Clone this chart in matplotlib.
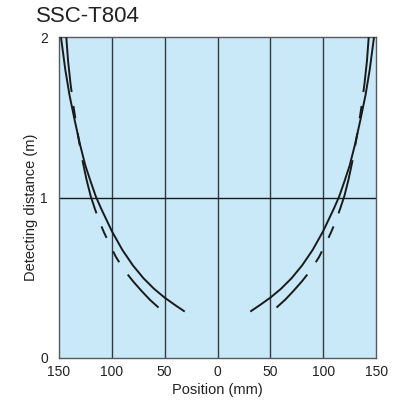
import matplotlib
matplotlib.use("Agg")
import matplotlib.pyplot as plt

plt.rcParams['font.family'] = ['Liberation Sans', 'DejaVu Sans']
plt.rcParams['lines.scale_dashes'] = False

title = "SSC-T804"
xlabel = "Position (mm)"
ylabel = "Detecting distance (m)"
xticks = [-150, -100, -50, 0, 50, 100, 150]
xticklabels = ["150", "100", "50", "0", "50", "100", "150"]
yticks = [0, 1, 2]
yticklabels = ["0", "1", "2"]

# Right half of each curve (position mm, distance m); left half is the mirror image
solid_x = [31, 40, 50, 60, 70, 80, 90, 100, 110, 115, 120, 125, 130, 135, 140, 144, 148]
solid_y = [0.288, 0.328, 0.375, 0.430, 0.496, 0.576, 0.673, 0.791, 0.930, 1.005,
           1.10, 1.20, 1.33, 1.48, 1.64, 1.80, 2.0]
dashed_x = [55.8, 64, 72, 80, 88, 96, 101.3, 107.2, 111.8, 116, 120, 124, 128, 132,
            136, 139, 141.3, 143]
dashed_y = [0.313, 0.362, 0.418, 0.478, 0.545, 0.628, 0.698, 0.780, 0.852, 0.930,
            1.01, 1.115, 1.24, 1.39, 1.56, 1.71, 1.85, 2.0]

fig = plt.figure(figsize=(3.98, 4.03), dpi=100)
ax = fig.add_axes([0.148, 0.1124, 0.797, 0.795])
ax.set_facecolor('#c9e9f9')
ax.set_xlim(-150, 150)
ax.set_ylim(0, 2)

for xv in xticks[1:-1]:
    ax.axvline(xv, color='#33393d', lw=1.0, zorder=1)
ax.axhline(1, color='#1a1a1a', lw=1.0, zorder=1)

dash_pattern = (0, (39.6, 10.1, 9.0, 10.8, 9.0, 10.8))
# draw dashed curve from top (y=2) downward so the dash phase starts at the top
for sign in (-1, 1):
    sx = [sign * v for v in solid_x]
    dx = [sign * v for v in dashed_x[::-1]]
    ax.plot(sx, solid_y, color='#1a1a1a', lw=1.4, zorder=3, solid_capstyle='butt')
    ax.plot(dx, dashed_y[::-1], color='#1a1a1a', lw=1.4, zorder=3, linestyle=dash_pattern)

ax.set_xticks(xticks)
ax.set_xticklabels(xticklabels)
ax.set_yticks(yticks)
ax.set_yticklabels(yticklabels)
ax.tick_params(axis='both', length=0, labelsize=10, colors='#222222')
ax.tick_params(axis='x', pad=5)
ax.tick_params(axis='y', pad=8)
for s in ax.spines.values():
    s.set_color('#555a5e')
    s.set_linewidth(1.0)

ax.set_xlabel(xlabel, fontsize=10.5, color='#222222', labelpad=3)
ax.set_ylabel(ylabel, fontsize=10.5, color='#222222')
ax.yaxis.set_label_coords(-0.065, 0.47)
fig.text(36 / 398, 1 - 22 / 403, title, fontsize=16, color='#222222', ha='left', va='baseline')

fig.savefig("out.png", dpi=100)
